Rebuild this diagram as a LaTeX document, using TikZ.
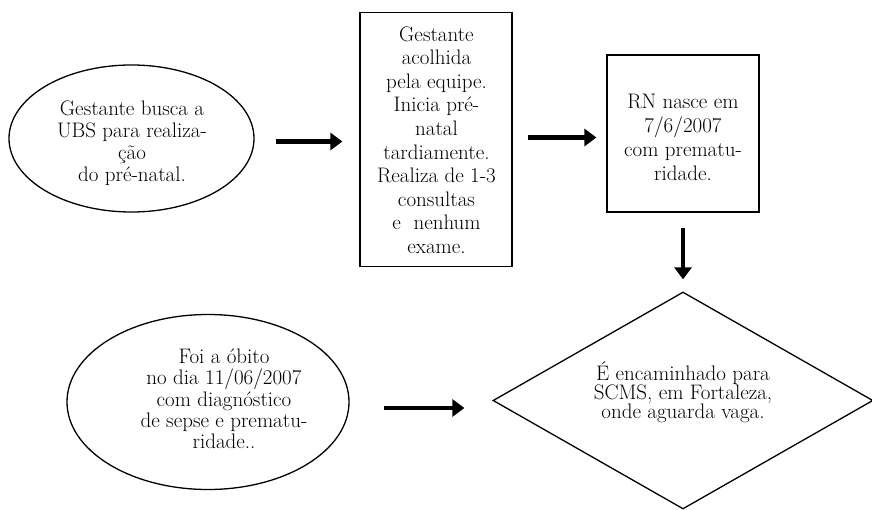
\documentclass[tikz,border=0pt]{standalone}
\usepackage{fontspec}
\usetikzlibrary{arrows.meta,shapes.geometric}
\begin{document}
\begin{tikzpicture}[x=1pt,y=-1pt,
  txt/.style={align=center,inner sep=0pt},
  ell/.style={draw,ellipse,line width=1.3pt,inner sep=0pt},
  rect/.style={draw,rectangle,line width=1.3pt,inner sep=0pt},
  dia/.style={draw,diamond,line width=1.3pt,inner sep=0pt},
  arr/.style={line width=4.5pt,-{Triangle[length=12pt,width=17pt]}}]
\useasboundingbox (0,0) rectangle (872,510);
% shapes
\node[ell,minimum width=245pt,minimum height=147pt] (e1) at (131.5,138.5) {};
\node[rect,minimum width=152pt,minimum height=254pt] (b1) at (436,139.5) {};
\node[rect,minimum width=152pt,minimum height=157pt] (b2) at (683,133.5) {};
\node[dia,minimum width=380pt,minimum height=217pt] (d) at (683,400.5) {};
\node[ell,minimum width=282pt,minimum height=175pt] (e2) at (208,402) {};
% texts
\node[txt,font=\fontsize{21}{22}\selectfont] (e1t) at (132,143)
  {Gestante busca a\\UBS para realiza-\\ção\\do pré-natal.};
\node[txt,font=\fontsize{21}{23.6}\selectfont] (b1t) at (436.5,140)
  {Gestante\\acolhida\\pela equipe.\\Inicia pré-\\natal\\tardiamente.\\Realiza de 1-3\\consultas\\e\ \ nenhum\\exame.};
\node[txt,font=\fontsize{21}{24}\selectfont] (b2t) at (683,137)
  {RN nasce em\\7/6/2007\\com prematu-\\ridade.};
\node[txt,font=\fontsize{21}{19}\selectfont] (dt) at (683,392)
  {É encaminhado para\\SCMS, em Fortaleza,\\onde aguarda vaga.};
\node[txt,font=\fontsize{21}{21.3}\selectfont] (e2t) at (224,399)
  {Foi a óbito\\no dia 11/06/2007\\com diagnóstico\\de sepse e prematu-\\ridade..};
% arrows
\draw[arr,shorten <=21pt,shorten >=17pt] ([yshift=-2pt]b1.west -| e1.east) -- ([yshift=-2pt]b1.west);
\draw[arr,shorten <=15pt,shorten >=10pt] ([yshift=-4pt]b2.west -| b1.east) -- ([yshift=-4pt]b2.west);
\draw[arr,shorten <=15pt,shorten >=12pt] (b2.south) -- (d.north);
\draw[arr,shorten <=34pt,shorten >=28pt] ([yshift=-6pt]e2.east) -- ([yshift=-6pt]e2.east -| d.west);
\end{tikzpicture}
\end{document}
